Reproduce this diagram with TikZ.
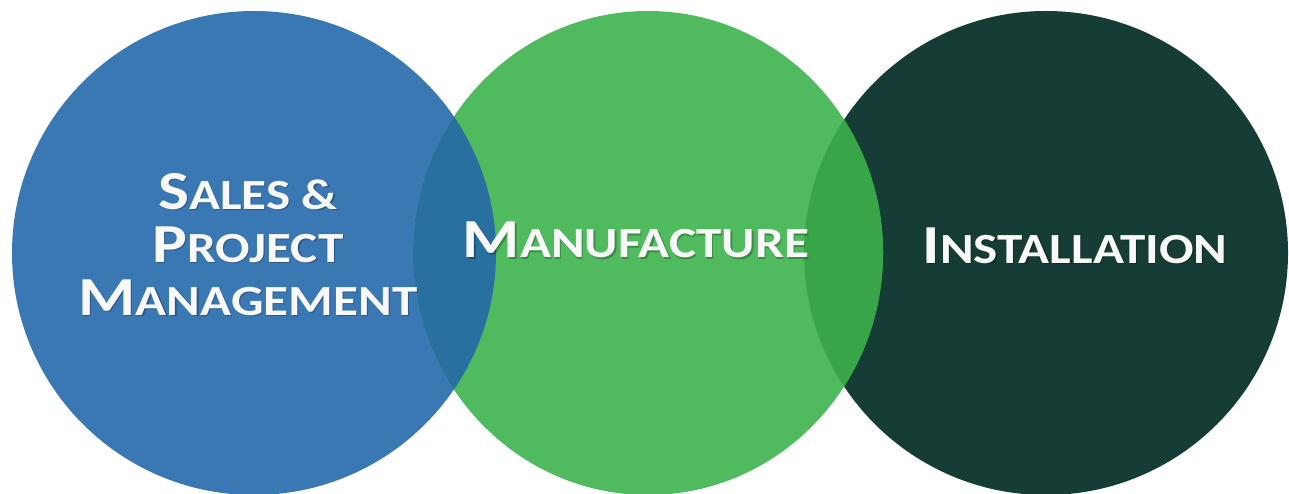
\documentclass[tikz,border=0pt]{standalone}
\usepackage{fontspec}
\setmainfont{Carlito}[FakeStretch=1.19]
\definecolor{cblue}{HTML}{3A78B4}
\definecolor{cblueov}{HTML}{2870A0}
\definecolor{cgreen}{HTML}{50BB5E}
\definecolor{cgreenov}{HTML}{38A548}
\definecolor{cdark}{HTML}{163D35}
\definecolor{ctext}{HTML}{F8F8F8}
\newcommand{\bigc}[1]{{\fontsize{55}{53}\selectfont #1}}
\newcommand{\smc}[1]{{\fontsize{43}{53}\selectfont #1}}
\tikzset{
  lbl/.style={text=ctext, font=\bfseries\fontsize{43}{53}\selectfont, align=center, inner sep=0pt, anchor=base},
  shadow/.style={lbl, text=black, text opacity=0.25}
}
\begin{document}
\begin{tikzpicture}[x=1pt,y=-1pt]
\useasboundingbox (0,0) rectangle (1289,494);
% circles
\fill[cblue] (254,253) circle (242);
\fill[cdark] (1046,253) circle (242);
\fill[cgreen] (648,253) ellipse [x radius=235, y radius=242];
\begin{scope}
  \clip (254,253) circle (242);
  \fill[cblueov] (648,253) ellipse [x radius=235, y radius=242];
\end{scope}
\begin{scope}
  \clip (1046,253) circle (242);
  \fill[cgreenov] (648,253) ellipse [x radius=235, y radius=242];
\end{scope}
% labels
\foreach \s/\dx in {shadow/1.2, lbl/0}{
  \node[\s] (sales\s) at (248+\dx,315+\dx) {\bigc{S}\smc{ALES \&}\\\bigc{P}\smc{ROJECT}\\\bigc{M}\smc{ANAGEMENT}};
  \node[\s] (manu\s) at (636+\dx,258+\dx) {\bigc{M}\smc{ANUFACTURE}};
  \node[\s] (inst\s) at (1075+\dx,263+\dx) {\bigc{I}\smc{NSTALLATION}};
}
\end{tikzpicture}
\end{document}
